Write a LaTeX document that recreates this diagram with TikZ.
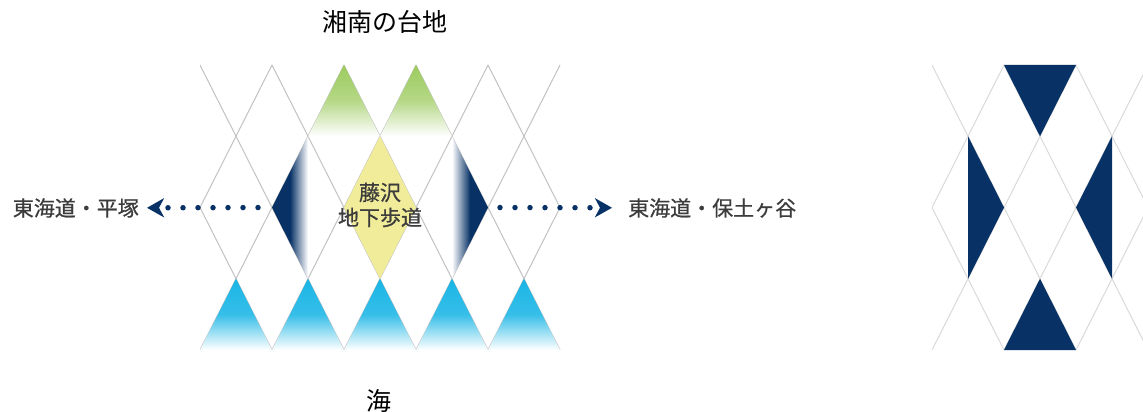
\documentclass[tikz,border=0pt]{standalone}
\usepackage{fontspec}
\newfontfamily\jpfont{Noto Sans CJK JP}
\usepackage{tikz}
\usetikzlibrary{positioning,arrows.meta}
\definecolor{navy}{RGB}{8,50,102}
\definecolor{leaf}{RGB}{156,203,94}
\definecolor{sky}{RGB}{26,181,229}
\definecolor{pale}{RGB}{241,236,154}
\definecolor{ink}{RGB}{60,60,60}

\begin{document}
\begin{tikzpicture}[
  x=1pt,
  y=-1pt,
  font=\jpfont,
  grid/.style={draw=black!24, line width=1pt},
  softgrid/.style={draw=black!15, line width=1pt},
  dotarrow/.style={draw=navy, line width=5.5pt, line cap=round, dash pattern=on 0pt off 15pt,
    -{Stealth[length=17pt, width=19pt, inset=5pt]}},
  place/.style={inner sep=0pt, text=ink, font=\jpfont\addfontfeature{FakeBold=0.7}\fontsize{21}{25}\selectfont},
  title/.style={inner sep=0pt, font=\jpfont\fontsize{25}{30}\selectfont}
]
\useasboundingbox (0,0) rectangle (1143,412);

% left lattice
\begin{scope}
  \clip (200,65) rectangle (560,350);
  \foreach \k in {-2,...,7}{
    \draw[grid] (200+72*\k,65) -- (344+72*\k,350);
    \draw[grid] (200+72*\k,65) -- (56+72*\k,350);
  }
\end{scope}

\foreach \x in {344,416}
  \shade[top color=leaf, bottom color=white, middle color=leaf!75]
    (\x,65) -- (\x+36,136.25) -- (\x-36,136.25) -- cycle;
\foreach \x in {236,308,380,452,524}
  \shade[top color=sky, bottom color=white, middle color=sky!88]
    (\x,278.75) -- (\x+36,350) -- (\x-36,350) -- cycle;
\shade[left color=navy, right color=white, middle color=navy]
  (272,207.5) -- (308,136.25) -- (308,278.75) -- cycle;
\shade[left color=white, right color=navy, middle color=navy]
  (488,207.5) -- (452,136.25) -- (452,278.75) -- cycle;
\fill[pale] (380,136.25) -- (416,207.5) -- (380,278.75) -- (344,207.5) -- cycle;

\coordinate (wtip) at (272,207.5);
\coordinate (etip) at (488,207.5);
\node[place, align=center] (tunnel) at (380,205) {藤沢\\地下歩道};
\node[place, anchor=east] (hiratsuka) at (139,208) {東海道・平塚};
\node[place, anchor=west] (hodogaya) at (628,208) {東海道・保土ヶ谷};
\draw[dotarrow, shorten <=14pt, shorten >=8pt] (wtip) -- (hiratsuka);
\draw[dotarrow, shorten <=12pt, shorten >=16pt] (etip) -- (hodogaya);

\node[title] (upland) at (385,22) {湘南の台地};
\node[title] (sea) at (379,401) {海};

% right lattice
\begin{scope}
  \clip (932,65) rectangle (1143,350);
  \foreach \k in {-2,...,5}{
    \draw[softgrid] (932+72*\k,65) -- (1076+72*\k,350);
    \draw[softgrid] (932+72*\k,65) -- (788+72*\k,350);
  }
\end{scope}
\fill[navy] (1004,65) -- (1076,65) -- (1040,136.25) -- cycle;
\fill[navy] (1004,350) -- (1076,350) -- (1040,278.75) -- cycle;
\fill[navy] (968,136.25) -- (968,278.75) -- (1004,207.5) -- cycle;
\fill[navy] (1112,136.25) -- (1112,278.75) -- (1076,207.5) -- cycle;
\end{tikzpicture}
\end{document}
